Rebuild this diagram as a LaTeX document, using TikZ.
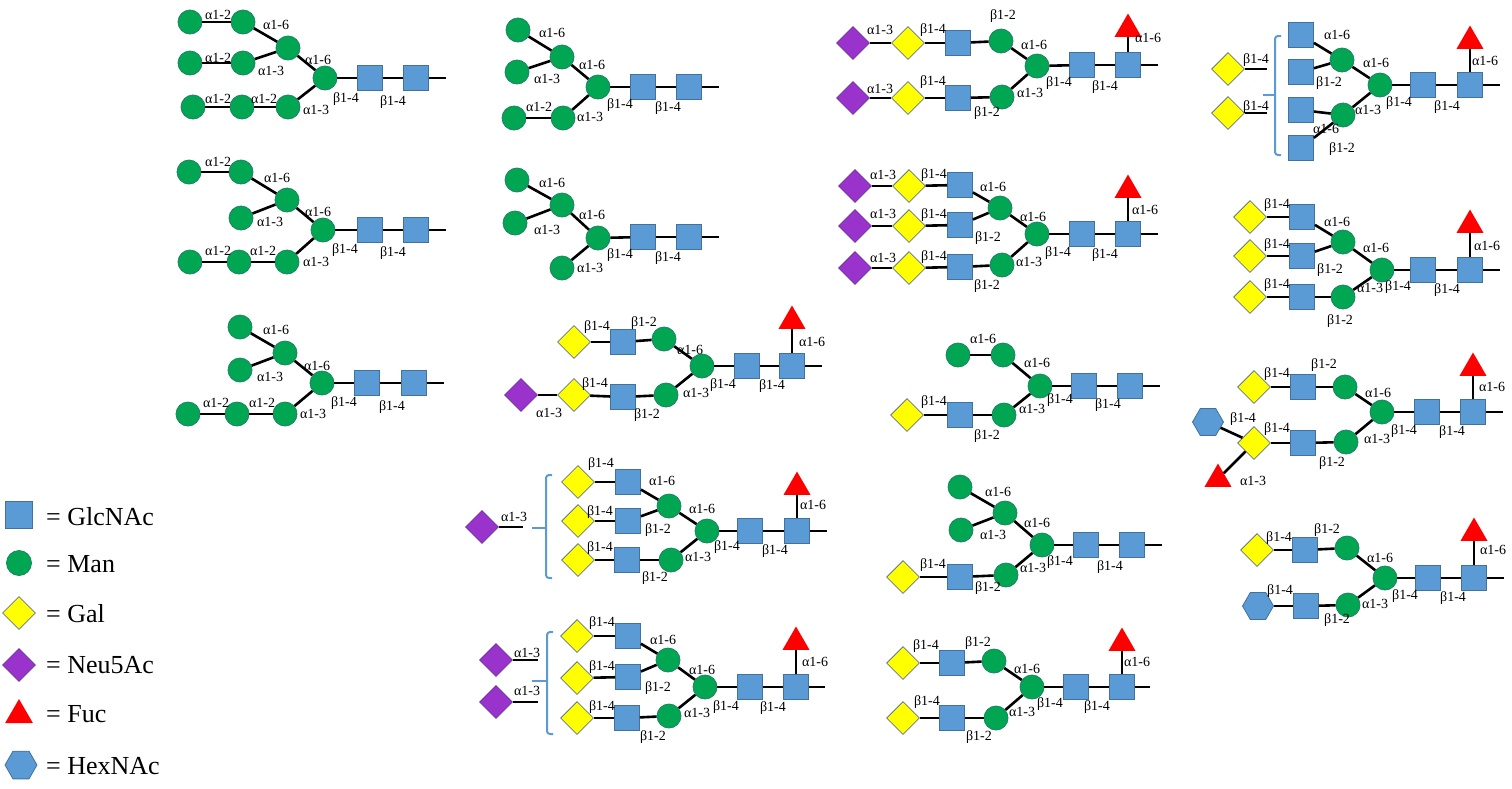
\documentclass[tikz,border=0pt]{standalone}
\usepackage{fontspec}
\setmainfont{Liberation Serif}
\usetikzlibrary{shapes.geometric}
\definecolor{mang}{RGB}{0,166,81}
\definecolor{mangb}{RGB}{30,130,100}
\definecolor{glcb}{RGB}{91,155,213}
\definecolor{glcbd}{RGB}{65,113,156}
\definecolor{galy}{RGB}{255,255,0}
\definecolor{galbd}{RGB}{100,120,140}
\definecolor{neup}{RGB}{153,51,204}
\definecolor{neupd}{RGB}{110,50,160}
\definecolor{fucr}{RGB}{255,0,0}
\definecolor{brk}{RGB}{91,155,213}
\newcounter{lc}
\newcommand\lab[3]{\stepcounter{lc}\node[lab] (lab\arabic{lc}) at (#1,#2) {#3};}
\newcommand\bonds[1]{\foreach \p/\q in {#1} {\draw[bond] (\p)--(\q);}}
\tikzset{
 man/.style={circle,fill=mang,draw=mangb,line width=0.8pt,minimum size=24pt,inner sep=0pt},
 glc/.style={rectangle,fill=glcb,draw=glcbd,line width=0.8pt,minimum size=25pt,inner sep=0pt},
 gal/.style={diamond,fill=galy,draw=galbd,line width=0.8pt,minimum size=33pt,inner sep=0pt},
 neu/.style={diamond,fill=neup,draw=neupd,line width=0.8pt,minimum size=33pt,inner sep=0pt},
 fuc/.style={regular polygon,regular polygon sides=3,fill=fucr,minimum size=31pt,inner sep=0pt},
 hexn/.style={regular polygon,regular polygon sides=6,fill=glcb,draw=glcbd,line width=0.8pt,minimum size=31pt,inner sep=0pt},
 bond/.style={line width=2.6pt,black},
 lab/.style={inner sep=0pt,font=\fontsize{14}{14}\selectfont},
 brack/.style={draw=brk,line width=2pt,rounded corners=3pt},
 legt/.style={anchor=west,inner sep=0pt,font=\fontsize{26}{26}\selectfont}
}
\begin{document}
\begin{tikzpicture}[x=1pt,y=-1pt]
\useasboundingbox (0,0) rectangle (1512,788);
% ---------- G1
\node[man] (g1a1) at (190,22) {};
\node[man] (g1a2) at (243,22) {};
\node[man] (g1a3) at (288,48) {};
\node[man] (g1b1) at (190,63) {};
\node[man] (g1b2) at (243,63) {};
\node[man] (g1c) at (325,78) {};
\node[man] (g1d1) at (193,107) {};
\node[man] (g1d2) at (242,107) {};
\node[man] (g1d3) at (288,107) {};
\node[glc] (g1s1) at (370,78) {};
\node[glc] (g1s2) at (416,78) {};
\coordinate (g1e) at (446,78);
\bonds{g1a1/g1a2,g1a2/g1a3,g1b1/g1b2,g1b2/g1a3,g1a3/g1c,g1d1/g1d2,g1d2/g1d3,g1d3/g1c,g1c/g1s1,g1s1/g1s2,g1s2/g1e}
\lab{218}{15}{α1-2}\lab{276}{25}{α1-6}\lab{218}{58}{α1-2}\lab{271}{71}{α1-3}\lab{318}{60}{α1-6}
\lab{346}{99}{β1-4}\lab{393}{102}{β1-4}\lab{218}{99}{α1-2}\lab{264}{99}{α1-2}\lab{316}{110}{α1-3}
% ---------- G2
\node[man] (g2a1) at (518,30) {};
\node[man] (g2a2) at (562,57) {};
\node[man] (g2b1) at (517,72) {};
\node[man] (g2c) at (598,87) {};
\node[man] (g2d1) at (514,118) {};
\node[man] (g2d2) at (563,118) {};
\node[glc] (g2s1) at (643,87) {};
\node[glc] (g2s2) at (689,87) {};
\coordinate (g2e) at (719,87);
\bonds{g2a1/g2a2,g2b1/g2a2,g2a2/g2c,g2d1/g2d2,g2d2/g2c,g2c/g2s1,g2s1/g2s2,g2s2/g2e}
\lab{552}{33}{α1-6}\lab{547}{79}{α1-3}\lab{592}{65}{α1-6}\lab{539}{107}{α1-2}\lab{590}{117}{α1-3}
\lab{620}{105}{β1-4}\lab{668}{108}{β1-4}
% ---------- G3
\node[neu] (g3n1) at (853,43) {};
\node[gal] (g3y1) at (908,43) {};
\node[glc] (g3q1) at (958,43) {};
\node[man] (g3m1) at (1001,41) {};
\node[man] (g3c) at (1037,66) {};
\node[neu] (g3n2) at (853,98) {};
\node[gal] (g3y2) at (908,98) {};
\node[glc] (g3q2) at (958,98) {};
\node[man] (g3m2) at (1002,97) {};
\node[glc] (g3s1) at (1082,65) {};
\node[glc] (g3s2) at (1128,65) {};
\node[fuc] (g3f) at (1128,29) {};
\coordinate (g3e) at (1158,65);
\bonds{g3n1/g3y1,g3y1/g3q1,g3q1/g3m1,g3m1/g3c,g3n2/g3y2,g3y2/g3q2,g3q2/g3m2,g3m2/g3c,g3c/g3s1,g3s1/g3s2,g3s2/g3e,g3s2/g3f}
\lab{880}{30}{α1-3}\lab{933}{30}{β1-4}\lab{1003}{16}{β1-2}\lab{1034}{45}{α1-6}
\lab{880}{89}{α1-3}\lab{933}{82}{β1-4}\lab{987}{113}{β1-2}\lab{1030}{93}{α1-3}
\lab{1059}{83}{β1-4}\lab{1105}{87}{β1-4}\lab{1148}{38}{α1-6}
% ---------- G4
\node[gal] (g4y1) at (1228,69) {};
\node[gal] (g4y2) at (1228,113) {};
\coordinate (g4t1) at (1267,69);
\coordinate (g4t2) at (1267,113);
\draw[brack] (1281,36) -- (1275,36) -- (1275,155) -- (1281,155);
\draw[brack] (1263,95) -- (1275,95);
\node[glc] (g4q1) at (1301,35) {};
\node[glc] (g4q2) at (1301,72) {};
\node[glc] (g4q3) at (1301,110) {};
\node[glc] (g4q4) at (1301,148) {};
\node[man] (g4m1) at (1342,60) {};
\node[man] (g4c) at (1380,85) {};
\node[man] (g4m2) at (1343,115) {};
\node[glc] (g4s1) at (1423,85) {};
\node[glc] (g4s2) at (1470,85) {};
\node[fuc] (g4f) at (1470,41) {};
\coordinate (g4e) at (1500,85);
\bonds{g4y1/g4t1,g4y2/g4t2,g4q1/g4m1,g4q2/g4m1,g4m1/g4c,g4q3/g4m2,g4q4/g4m2,g4m2/g4c,g4c/g4s1,g4s1/g4s2,g4s2/g4e,g4s2/g4f}
\lab{1256}{60}{β1-4}\lab{1256}{107}{β1-4}\lab{1337}{35}{α1-6}\lab{1329}{83}{β1-2}\lab{1376}{63}{α1-6}
\lab{1368}{110}{α1-3}\lab{1326}{129}{α1-6}\lab{1342}{149}{β1-2}\lab{1399}{103}{β1-4}\lab{1447}{107}{β1-4}
\lab{1485}{61}{α1-6}
% ---------- G5
\node[man] (g5a1) at (189,172) {};
\node[man] (g5a2) at (241,172) {};
\node[man] (g5a3) at (287,200) {};
\node[man] (g5b2) at (241,218) {};
\node[man] (g5c) at (323,230) {};
\node[man] (g5d1) at (190,262) {};
\node[man] (g5d2) at (239,262) {};
\node[man] (g5d3) at (287,262) {};
\node[glc] (g5s1) at (370,230) {};
\node[glc] (g5s2) at (416,230) {};
\coordinate (g5e) at (446,230);
\bonds{g5a1/g5a2,g5a2/g5a3,g5b2/g5a3,g5a3/g5c,g5d1/g5d2,g5d2/g5d3,g5d3/g5c,g5c/g5s1,g5s1/g5s2,g5s2/g5e}
\lab{218}{162}{α1-2}\lab{277}{178}{α1-6}\lab{270}{222}{α1-3}\lab{318}{212}{α1-6}\lab{345}{250}{β1-4}
\lab{393}{253}{β1-4}\lab{218}{251}{α1-2}\lab{263}{251}{α1-2}\lab{316}{262}{α1-3}
% ---------- G6
\node[man] (g6a1) at (517,180) {};
\node[man] (g6a2) at (562,205) {};
\node[man] (g6b1) at (515,223) {};
\node[man] (g6c) at (598,238) {};
\node[man] (g6d2) at (562,268) {};
\node[glc] (g6s1) at (643,237) {};
\node[glc] (g6s2) at (689,237) {};
\coordinate (g6e) at (719,237);
\bonds{g6a1/g6a2,g6b1/g6a2,g6a2/g6c,g6d2/g6c,g6c/g6s1,g6s1/g6s2,g6s2/g6e}
\lab{552}{183}{α1-6}\lab{547}{230}{α1-3}\lab{592}{215}{α1-6}\lab{590}{268}{α1-3}\lab{620}{255}{β1-4}\lab{668}{258}{β1-4}
% ---------- G7
\node[neu] (g7n1) at (855,186) {};
\node[gal] (g7y1) at (909,186) {};
\node[glc] (g7q1) at (960,185) {};
\node[neu] (g7n2) at (855,226) {};
\node[gal] (g7y2) at (909,226) {};
\node[glc] (g7q2) at (960,225) {};
\node[neu] (g7n3) at (855,268) {};
\node[gal] (g7y3) at (909,268) {};
\node[glc] (g7q3) at (960,267) {};
\node[man] (g7m1) at (1000,208) {};
\node[man] (g7m2) at (1002,265) {};
\node[man] (g7c) at (1037,234) {};
\node[glc] (g7s1) at (1082,234) {};
\node[glc] (g7s2) at (1128,234) {};
\node[fuc] (g7f) at (1128,190) {};
\coordinate (g7e) at (1158,234);
\bonds{g7n1/g7y1,g7y1/g7q1,g7n2/g7y2,g7y2/g7q2,g7n3/g7y3,g7y3/g7q3,g7q1/g7m1,g7q2/g7m1,g7m1/g7c,g7q3/g7m2,g7m2/g7c,g7c/g7s1,g7s1/g7s2,g7s2/g7e,g7s2/g7f}
\lab{883}{175}{α1-3}\lab{934}{175}{β1-4}\lab{993}{187}{α1-6}\lab{883}{214}{α1-3}\lab{934}{215}{β1-4}
\lab{988}{238}{β1-2}\lab{1033}{217}{α1-6}\lab{883}{258}{α1-3}\lab{934}{257}{β1-4}\lab{987}{286}{β1-2}
\lab{1029}{262}{α1-3}\lab{1058}{253}{β1-4}\lab{1105}{255}{β1-4}\lab{1145}{210}{α1-6}
% ---------- G8
\node[gal] (g8y1) at (1250,217) {};
\node[glc] (g8q1) at (1302,217) {};
\node[gal] (g8y2) at (1250,256) {};
\node[glc] (g8q2) at (1302,256) {};
\node[gal] (g8y3) at (1250,297) {};
\node[glc] (g8q3) at (1302,297) {};
\node[man] (g8m1) at (1343,242) {};
\node[man] (g8m2) at (1343,297) {};
\node[man] (g8c) at (1382,270) {};
\node[glc] (g8s1) at (1423,270) {};
\node[glc] (g8s2) at (1470,270) {};
\node[fuc] (g8f) at (1470,225) {};
\coordinate (g8e) at (1500,270);
\bonds{g8y1/g8q1,g8y2/g8q2,g8y3/g8q3,g8q1/g8m1,g8q2/g8m1,g8m1/g8c,g8q3/g8m2,g8m2/g8c,g8c/g8s1,g8s1/g8s2,g8s2/g8e,g8s2/g8f}
\lab{1277}{205}{β1-4}\lab{1277}{245}{β1-4}\lab{1277}{285}{β1-4}\lab{1337}{222}{α1-6}\lab{1330}{270}{β1-2}
\lab{1376}{248}{α1-6}\lab{1370}{288}{α1-3}\lab{1340}{321}{β1-2}\lab{1398}{287}{β1-4}\lab{1447}{290}{β1-4}
\lab{1487}{246}{α1-6}
% ---------- G9
\node[man] (g9a2) at (240,327) {};
\node[man] (g9a3) at (285,353) {};
\node[man] (g9b2) at (240,370) {};
\node[man] (g9c) at (322,383) {};
\node[man] (g9d1) at (188,414) {};
\node[man] (g9d2) at (237,414) {};
\node[man] (g9d3) at (285,414) {};
\node[glc] (g9s1) at (367,383) {};
\node[glc] (g9s2) at (414,383) {};
\coordinate (g9e) at (444,383);
\bonds{g9a2/g9a3,g9b2/g9a3,g9a3/g9c,g9d1/g9d2,g9d2/g9d3,g9d3/g9c,g9c/g9s1,g9s1/g9s2,g9s2/g9e}
\lab{276}{330}{α1-6}\lab{270}{377}{α1-3}\lab{317}{366}{α1-6}\lab{344}{403}{β1-4}\lab{392}{407}{β1-4}
\lab{216}{403}{α1-2}\lab{262}{403}{α1-2}\lab{313}{414}{α1-3}
% ---------- G10
\node[gal] (g10y1) at (574,342) {};
\node[glc] (g10q1) at (623,342) {};
\node[man] (g10m1) at (664,339) {};
\node[man] (g10c) at (702,366) {};
\node[glc] (g10s1) at (747,366) {};
\node[glc] (g10s2) at (792,366) {};
\node[fuc] (g10f) at (792,321) {};
\coordinate (g10e) at (822,366);
\node[neu] (g10n2) at (521,395) {};
\node[gal] (g10y2) at (574,395) {};
\node[glc] (g10q2) at (623,397) {};
\node[man] (g10m2) at (666,395) {};
\bonds{g10y1/g10q1,g10q1/g10m1,g10m1/g10c,g10n2/g10y2,g10y2/g10q2,g10q2/g10m2,g10m2/g10c,g10c/g10s1,g10s1/g10s2,g10s2/g10e,g10s2/g10f}
\lab{597}{327}{β1-4}\lab{644}{323}{β1-2}\lab{690}{350}{α1-6}\lab{595}{384}{β1-4}\lab{549}{413}{α1-3}
\lab{647}{415}{β1-2}\lab{696}{393}{α1-3}\lab{723}{385}{β1-4}\lab{772}{386}{β1-4}\lab{812}{342}{α1-6}
% ---------- G11
\node[man] (g11m0) at (958,355) {};
\node[man] (g11m1) at (1003,355) {};
\node[man] (g11c) at (1040,386) {};
\node[man] (g11m2) at (1004,415) {};
\node[glc] (g11q) at (960,415) {};
\node[gal] (g11y) at (907,415) {};
\node[glc] (g11s1) at (1084,386) {};
\node[glc] (g11s2) at (1130,386) {};
\coordinate (g11e) at (1160,386);
\bonds{g11m0/g11m1,g11m1/g11c,g11y/g11q,g11q/g11m2,g11m2/g11c,g11c/g11s1,g11s1/g11s2,g11s2/g11e}
\lab{983}{339}{α1-6}\lab{1037}{363}{α1-6}\lab{934}{402}{β1-4}\lab{987}{436}{β1-2}\lab{1032}{409}{α1-3}
\lab{1060}{400}{β1-4}\lab{1108}{405}{β1-4}
% ---------- G12
\node[gal] (g12y1) at (1254,387) {};
\node[glc] (g12q1) at (1303,387) {};
\node[man] (g12m1) at (1345,387) {};
\node[man] (g12c) at (1382,412) {};
\node[glc] (g12s1) at (1427,412) {};
\node[glc] (g12s2) at (1473,412) {};
\node[fuc] (g12f) at (1473,368) {};
\coordinate (g12e) at (1503,412);
\node[hexn] (g12h) at (1208,422) {};
\node[gal] (g12y2) at (1254,443) {};
\node[glc] (g12q2) at (1303,443) {};
\node[man] (g12m2) at (1346,442) {};
\node[fuc] (g12f2) at (1218,479) {};
\bonds{g12y1/g12q1,g12q1/g12m1,g12m1/g12c,g12h/g12y2,g12y2/g12q2,g12q2/g12m2,g12m2/g12c,g12y2/g12f2,g12c/g12s1,g12s1/g12s2,g12s2/g12e,g12s2/g12f}
\lab{1277}{374}{β1-4}\lab{1324}{365}{β1-2}\lab{1378}{393}{α1-6}\lab{1243}{419}{β1-4}\lab{1277}{429}{β1-4}
\lab{1332}{463}{β1-2}\lab{1377}{439}{α1-3}\lab{1404}{431}{β1-4}\lab{1452}{432}{β1-4}\lab{1253}{481}{α1-3}
\lab{1492}{387}{α1-6}
% ---------- G13
\node[neu] (g13n) at (482,527) {};
\coordinate (g13t) at (523,527);
\draw[brack] (552,475) -- (546,475) -- (546,578) -- (552,578);
\draw[brack] (532,528) -- (546,528);
\node[gal] (g13y1) at (578,482) {};
\node[glc] (g13q1) at (628,482) {};
\node[gal] (g13y2) at (578,521) {};
\node[glc] (g13q2) at (628,521) {};
\node[gal] (g13y3) at (578,560) {};
\node[glc] (g13q3) at (627,560) {};
\node[man] (g13m1) at (669,506) {};
\node[man] (g13m2) at (671,560) {};
\node[man] (g13c) at (707,531) {};
\node[glc] (g13s1) at (750,531) {};
\node[glc] (g13s2) at (797,531) {};
\node[fuc] (g13f) at (797,487) {};
\coordinate (g13e) at (827,531);
\bonds{g13n/g13t,g13y1/g13q1,g13y2/g13q2,g13y3/g13q3,g13q1/g13m1,g13q2/g13m1,g13m1/g13c,g13q3/g13m2,g13m2/g13c,g13c/g13s1,g13s1/g13s2,g13s2/g13e,g13s2/g13f}
\lab{601}{464}{β1-4}\lab{662}{481}{α1-6}\lab{600}{512}{β1-4}\lab{658}{530}{β1-2}\lab{702}{509}{α1-6}
\lab{600}{548}{β1-4}\lab{655}{578}{β1-2}\lab{698}{557}{α1-3}\lab{727}{547}{β1-4}\lab{775}{551}{β1-4}
\lab{813}{505}{α1-6}\lab{514}{517}{α1-3}
% ---------- G14
\node[man] (g14m0) at (960,487) {};
\node[man] (g14m1) at (1005,513) {};
\node[man] (g14mb) at (961,530) {};
\node[man] (g14c) at (1042,545) {};
\node[man] (g14m2) at (1006,575) {};
\node[glc] (g14q) at (960,577) {};
\node[gal] (g14y) at (903,577) {};
\node[glc] (g14s1) at (1086,545) {};
\node[glc] (g14s2) at (1132,545) {};
\coordinate (g14e) at (1162,545);
\bonds{g14m0/g14m1,g14mb/g14m1,g14m1/g14c,g14y/g14q,g14q/g14m2,g14m2/g14c,g14c/g14s1,g14s1/g14s2,g14s2/g14e}
\lab{998}{492}{α1-6}\lab{993}{535}{α1-3}\lab{1037}{523}{α1-6}\lab{1060}{562}{β1-4}\lab{1110}{567}{β1-4}
\lab{933}{565}{β1-4}\lab{988}{588}{β1-2}\lab{1033}{568}{α1-3}
% ---------- G15
\node[gal] (g15y1) at (1257,550) {};
\node[glc] (g15q1) at (1305,550) {};
\node[man] (g15m1) at (1347,548) {};
\node[man] (g15c) at (1385,578) {};
\node[glc] (g15s1) at (1428,578) {};
\node[glc] (g15s2) at (1474,578) {};
\node[fuc] (g15f) at (1474,533) {};
\coordinate (g15e) at (1504,578);
\node[hexn] (g15h) at (1258,606) {};
\node[glc] (g15q2) at (1306,606) {};
\node[man] (g15m2) at (1348,605) {};
\bonds{g15y1/g15q1,g15q1/g15m1,g15m1/g15c,g15h/g15q2,g15q2/g15m2,g15m2/g15c,g15c/g15s1,g15s1/g15s2,g15s2/g15e,g15s2/g15f}
\lab{1279}{538}{β1-4}\lab{1327}{530}{β1-2}\lab{1380}{558}{α1-6}\lab{1280}{591}{β1-4}\lab{1337}{620}{β1-2}
\lab{1375}{604}{α1-3}\lab{1405}{596}{β1-4}\lab{1453}{598}{β1-4}\lab{1493}{550}{α1-6}
% ---------- G16
\node[neu] (g16n1) at (496,660) {};
\node[neu] (g16n2) at (496,702) {};
\coordinate (g16t1) at (538,660);
\coordinate (g16t2) at (538,702);
\draw[brack] (553,632) -- (547,632) -- (547,734) -- (553,734);
\draw[brack] (532,681) -- (547,681);
\node[gal] (g16y1) at (577,636) {};
\node[glc] (g16q1) at (628,636) {};
\node[gal] (g16y2) at (577,678) {};
\node[glc] (g16q2) at (628,677) {};
\node[gal] (g16y3) at (577,718) {};
\node[glc] (g16q3) at (627,718) {};
\node[man] (g16m1) at (668,660) {};
\node[man] (g16m2) at (669,716) {};
\node[man] (g16c) at (705,687) {};
\node[glc] (g16s1) at (750,687) {};
\node[glc] (g16s2) at (796,687) {};
\node[fuc] (g16f) at (796,642) {};
\coordinate (g16e) at (825,687);
\bonds{g16n1/g16t1,g16n2/g16t2,g16y1/g16q1,g16y2/g16q2,g16y3/g16q3,g16q1/g16m1,g16q2/g16m1,g16m1/g16c,g16q3/g16m2,g16m2/g16c,g16c/g16s1,g16s1/g16s2,g16s2/g16e,g16s2/g16f}
\lab{602}{623}{β1-4}\lab{663}{640}{α1-6}\lab{602}{667}{β1-4}\lab{658}{688}{β1-2}\lab{702}{670}{α1-6}
\lab{602}{707}{β1-4}\lab{653}{737}{β1-2}\lab{697}{713}{α1-3}\lab{726}{707}{β1-4}\lab{773}{708}{β1-4}
\lab{815}{662}{α1-6}\lab{527}{653}{α1-3}\lab{527}{691}{α1-3}
% ---------- G17
\node[gal] (g17y1) at (903,663) {};
\node[glc] (g17q1) at (952,663) {};
\node[man] (g17m1) at (994,661) {};
\node[man] (g17c) at (1032,687) {};
\node[glc] (g17s1) at (1076,687) {};
\node[glc] (g17s2) at (1122,687) {};
\node[fuc] (g17f) at (1122,643) {};
\coordinate (g17e) at (1150,687);
\node[gal] (g17y2) at (903,718) {};
\node[glc] (g17q2) at (952,718) {};
\node[man] (g17m2) at (996,718) {};
\bonds{g17y1/g17q1,g17q1/g17m1,g17m1/g17c,g17y2/g17q2,g17q2/g17m2,g17m2/g17c,g17c/g17s1,g17s1/g17s2,g17s2/g17e,g17s2/g17f}
\lab{926}{646}{β1-4}\lab{978}{643}{β1-2}\lab{1027}{669}{α1-6}\lab{927}{702}{β1-4}\lab{979}{737}{β1-2}
\lab{1022}{712}{α1-3}\lab{1050}{704}{β1-4}\lab{1097}{707}{β1-4}\lab{1137}{662}{α1-6}
% ---------- Legend
\node[glc,minimum size=27pt] (lg1) at (19,515) {};
\node[man,minimum size=25pt] (lg2) at (19,563) {};
\node[gal] (lg3) at (19,613) {};
\node[neu] (lg4) at (19,665) {};
\node[fuc,minimum size=32pt] (lg5) at (19,715) {};
\node[hexn,minimum size=32pt] (lg6) at (21,765) {};
\node[legt] (lt1) at (46,517) {= GlcNAc};
\node[legt] (lt2) at (46,564) {= Man};
\node[legt] (lt3) at (46,614) {= Gal};
\node[legt] (lt4) at (46,665) {= Neu5Ac};
\node[legt] (lt5) at (46,714) {= Fuc};
\node[legt] (lt6) at (46,766) {= HexNAc};
\end{tikzpicture}
\end{document}
